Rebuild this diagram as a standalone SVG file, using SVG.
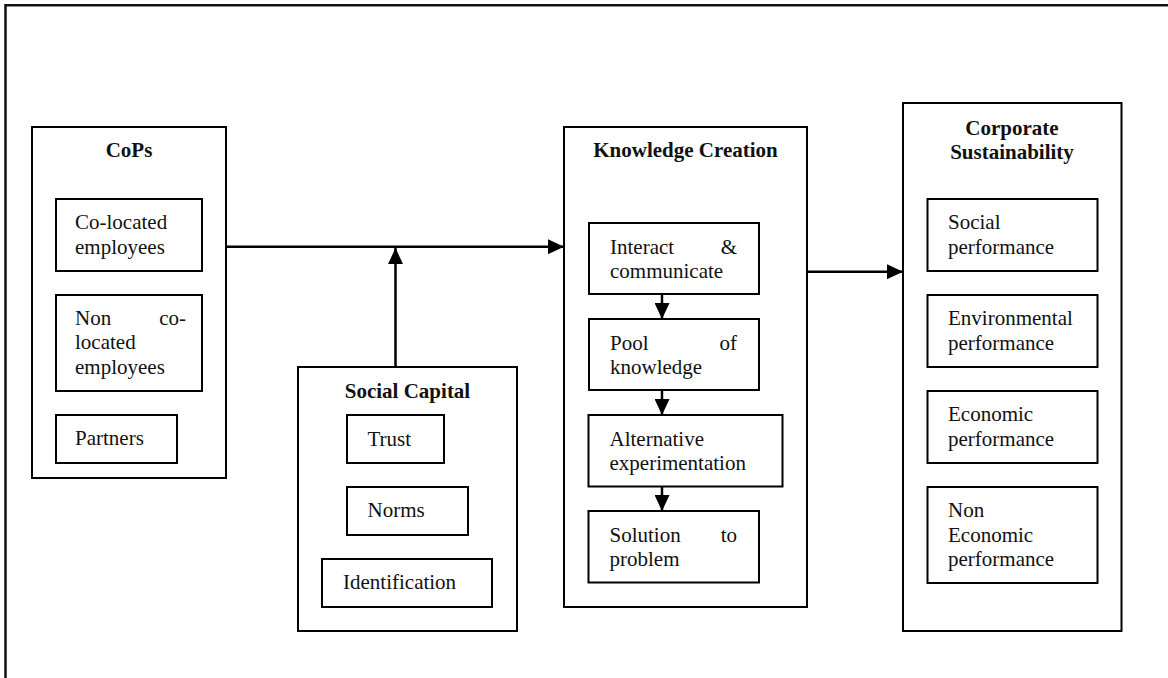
<svg xmlns="http://www.w3.org/2000/svg" width="1168" height="678" viewBox="0 0 1168 678" font-family="'Liberation Serif', 'Times New Roman', Times, serif">
  <defs>
    <marker id="arrow" viewBox="0 0 16 15" refX="16" refY="7.5" markerWidth="16" markerHeight="15" markerUnits="userSpaceOnUse" orient="auto">
      <path d="M0,0 L16,7.5 L0,15 Z" fill="#000"/>
    </marker>
    <style>
      .box { fill: #fff; stroke: #000; stroke-width: 2; }
      .frame { fill: none; stroke: #111; stroke-width: 2.5; }
      text { font-family: "Liberation Serif", "Times New Roman", Times, serif; font-size: 21px; fill: #111; }
      .h { font-weight: bold; text-anchor: middle; }
      .r { text-anchor: end; }
      .link { fill: none; stroke: #000; stroke-width: 2.5; marker-end: url(#arrow); }
    </style>
  </defs>

  <rect width="1168" height="678" fill="#fff"/>

  <!-- page frame -->
  <path class="frame" d="M5.5,678 V5.2 H1168"/>

  <!-- CoPs -->
  <g id="cops">
    <rect class="box" x="32" y="127" width="194" height="351"/>
    <text class="h" x="129" y="157">CoPs</text>
    <rect class="box" x="56" y="199" width="146" height="72"/>
    <text x="75" y="229">Co-located</text>
    <text x="75" y="253.5">employees</text>
    <rect class="box" x="56" y="295" width="146" height="96"/>
    <text x="75" y="324.5">Non</text>
    <text class="r" x="186" y="324.5">co-</text>
    <text x="75" y="349">located</text>
    <text x="75" y="373.5">employees</text>
    <rect class="box" x="56" y="415" width="121" height="48"/>
    <text x="75" y="445">Partners</text>
  </g>

  <!-- Social Capital -->
  <g id="social-capital">
    <rect class="box" x="298" y="367" width="219" height="264"/>
    <text class="h" x="407.5" y="398">Social Capital</text>
    <rect class="box" x="347" y="415" width="97" height="48"/>
    <text x="367.5" y="445.5">Trust</text>
    <rect class="box" x="347" y="487" width="121" height="48"/>
    <text x="367.5" y="517">Norms</text>
    <rect class="box" x="322" y="559" width="170" height="48"/>
    <text x="343" y="589">Identification</text>
  </g>

  <!-- Knowledge Creation -->
  <g id="knowledge-creation">
    <rect class="box" x="564" y="127" width="243" height="480"/>
    <text class="h" x="685.5" y="157">Knowledge Creation</text>
    <rect class="box" x="589" y="223" width="170" height="71"/>
    <text x="610" y="253.5">Interact</text>
    <text class="r" x="737" y="253.5">&amp;</text>
    <text x="610" y="278">communicate</text>
    <rect class="box" x="589" y="319" width="170" height="71"/>
    <text x="610" y="349.5">Pool</text>
    <text class="r" x="737" y="349.5">of</text>
    <text x="610" y="374">knowledge</text>
    <rect class="box" x="588.5" y="415" width="194" height="71.5"/>
    <text x="609.5" y="445.5">Alternative</text>
    <text x="609.5" y="470">experimentation</text>
    <rect class="box" x="588.5" y="511" width="170.5" height="71.5"/>
    <text x="609.5" y="541.5">Solution</text>
    <text class="r" x="737" y="541.5">to</text>
    <text x="609.5" y="566">problem</text>
  </g>

  <!-- Corporate Sustainability -->
  <g id="corporate-sustainability">
    <rect class="box" x="903" y="103" width="218.5" height="528"/>
    <text class="h" x="1012" y="134.5">Corporate</text>
    <text class="h" x="1012" y="159">Sustainability</text>
    <rect class="box" x="927.5" y="199" width="170" height="72"/>
    <text x="948" y="229">Social</text>
    <text x="948" y="253.5">performance</text>
    <rect class="box" x="927.5" y="295" width="170" height="72"/>
    <text x="948" y="325">Environmental</text>
    <text x="948" y="349.5">performance</text>
    <rect class="box" x="927.5" y="391" width="170" height="72"/>
    <text x="948" y="421">Economic</text>
    <text x="948" y="445.5">performance</text>
    <rect class="box" x="927.5" y="487" width="170" height="96"/>
    <text x="948" y="517">Non</text>
    <text x="948" y="541.5">Economic</text>
    <text x="948" y="566">performance</text>
  </g>

  <!-- connectors -->
  <g id="connectors">
    <line class="link" x1="226" y1="246.7" x2="564" y2="246.7"/>
    <line class="link" x1="395.5" y1="367" x2="395.5" y2="248"/>
    <line class="link" x1="807" y1="271.7" x2="903" y2="271.7"/>
    <line class="link" x1="662" y1="294" x2="662" y2="319"/>
    <line class="link" x1="662" y1="390" x2="662" y2="415"/>
    <line class="link" x1="662" y1="486.5" x2="662" y2="511"/>
  </g>
</svg>
